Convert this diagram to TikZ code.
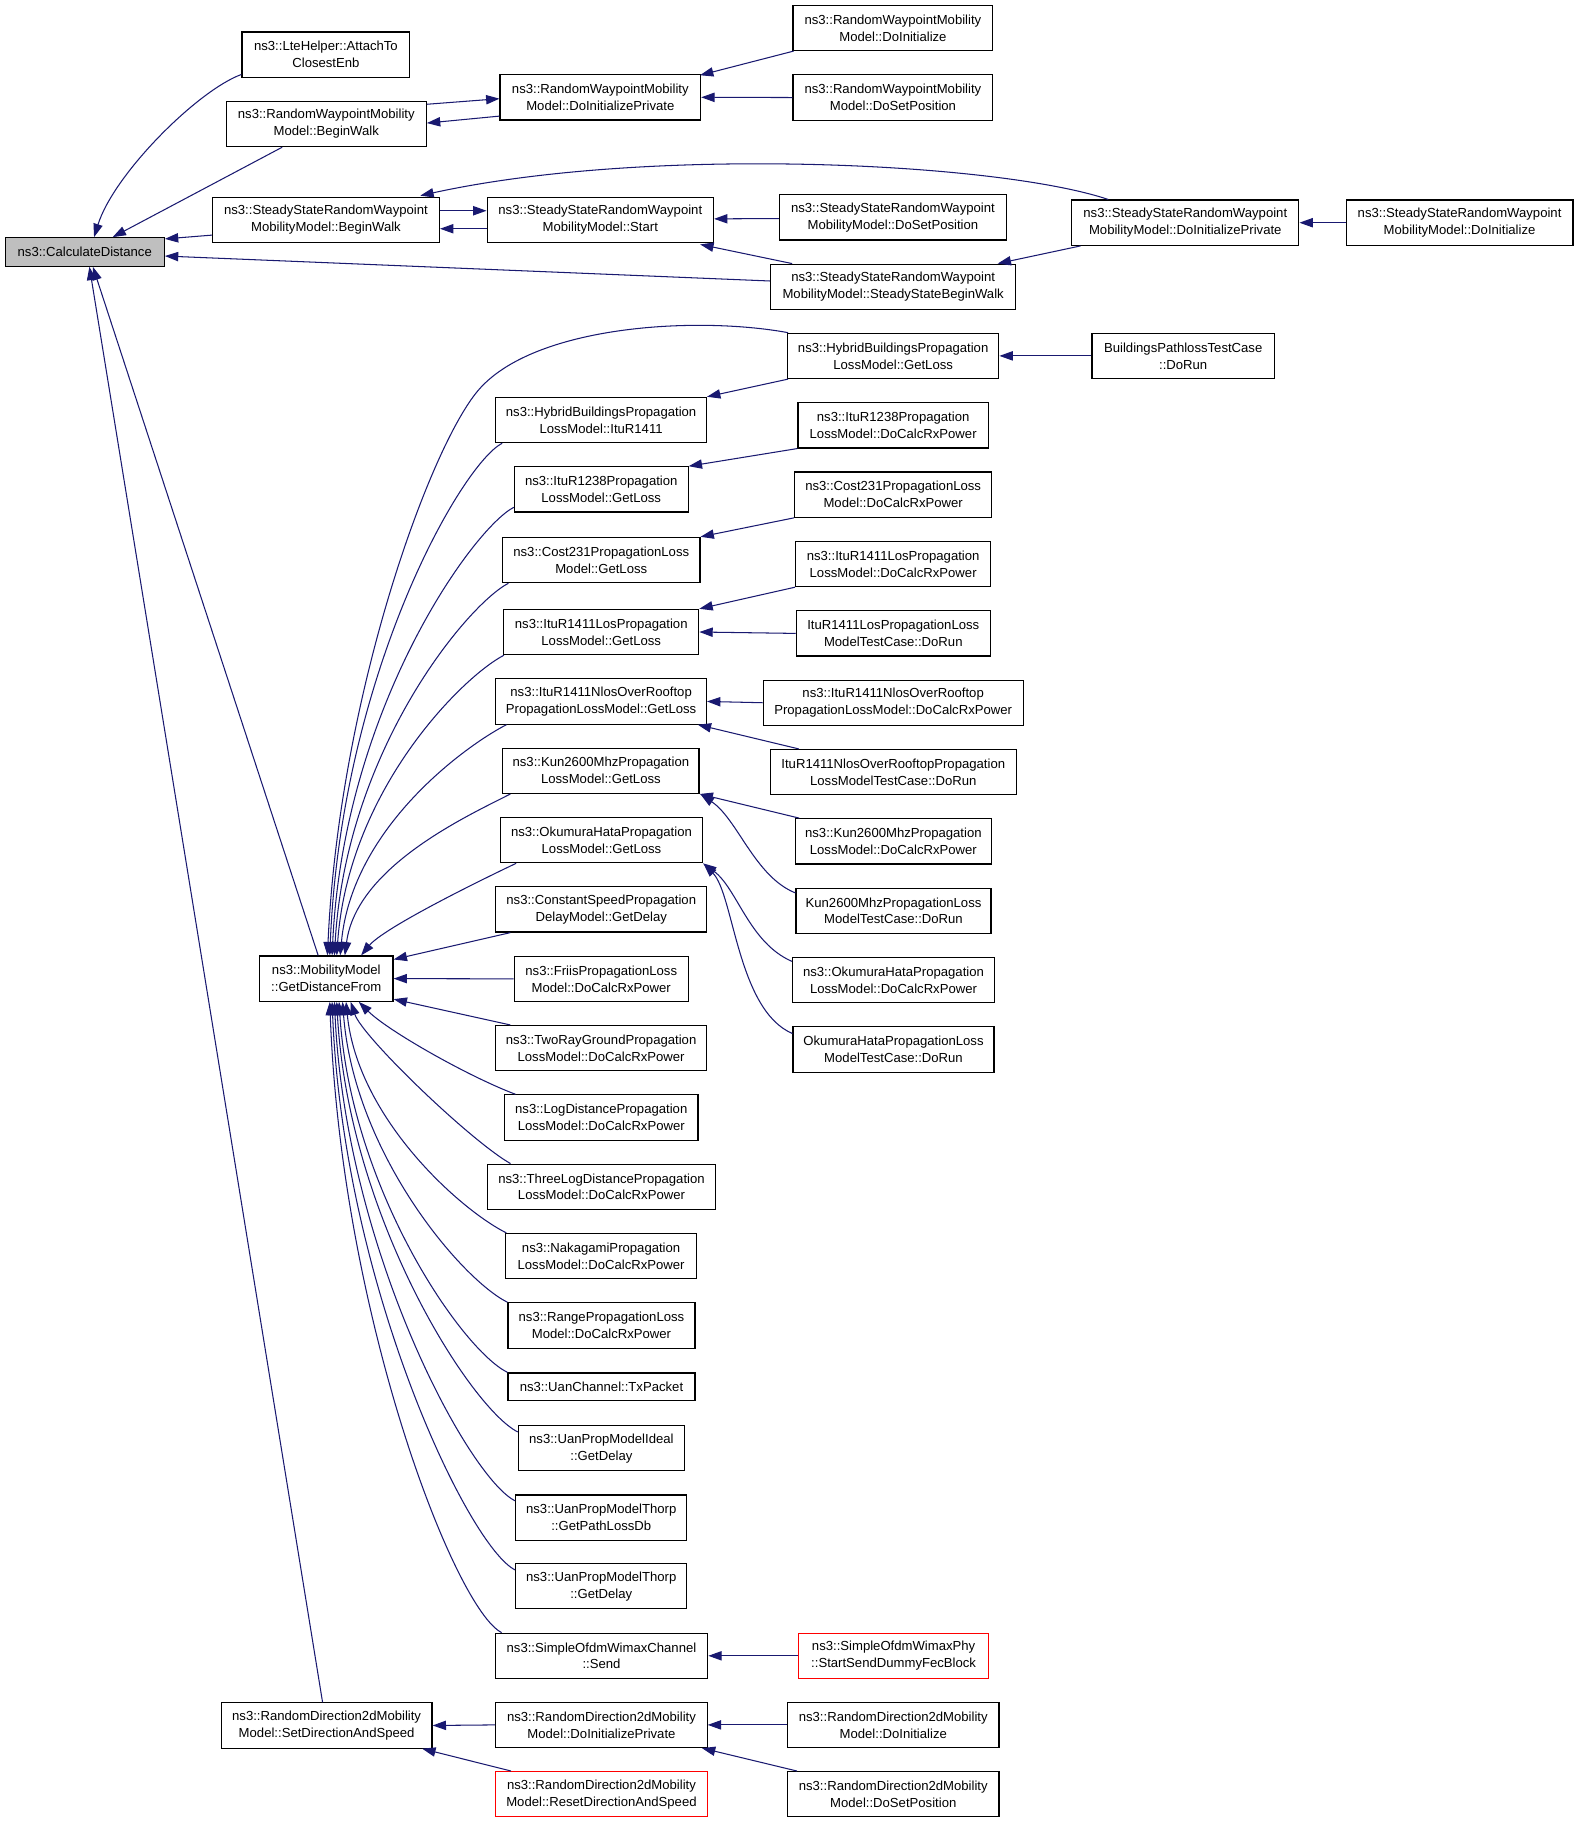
\documentclass[tikz,border=0pt]{standalone}
\usepackage{fontspec}
\setmainfont{Liberation Sans}
\usetikzlibrary{arrows.meta,calc}
\definecolor{navy}{RGB}{25,25,112}
\definecolor{cdgray}{RGB}{191,191,191}
\tikzset{
  box/.style={draw=black, line width=1pt, fill=white, inner sep=0pt, align=center,
    font=\fontsize{11.3}{14.6}\selectfont, minimum height=39pt},
  redbox/.style={box, draw=red},
  edge/.style={draw=navy, line width=0.9pt, -{Triangle[length=11.5pt,width=8pt]}}
}
\begin{document}
\begin{tikzpicture}[x=1pt,y=-1pt]
\fill[white] (0,0) rectangle (1359.9,1570);
\useasboundingbox (0,0) rectangle (1359.9,1570);
% nodes
\node[box, fill=cdgray, minimum width=137pt, minimum height=24.5pt] (CD) at (73,217) {ns3::CalculateDistance};
\node[box, minimum width=144.5pt] (AT) at (280.7,47.1) {ns3::LteHelper::AttachTo\\ClosestEnb};
\node[box, minimum width=172.3pt] (RWBW) at (281,106.8) {ns3::RandomWaypointMobility\\Model::BeginWalk};
\node[box, minimum width=172.7pt] (RWDIP) at (517,83.8) {ns3::RandomWaypointMobility\\Model::DoInitializePrivate};
\node[box, minimum width=172pt] (RWDI) at (769,24) {ns3::RandomWaypointMobility\\Model::DoInitialize};
\node[box, minimum width=172pt] (RWDSP) at (769,84) {ns3::RandomWaypointMobility\\Model::DoSetPosition};
\node[box, minimum width=195.5pt] (SSBW) at (280.7,189.5) {ns3::SteadyStateRandomWaypoint\\MobilityModel::BeginWalk};
\node[box, minimum width=195pt] (SSST) at (517,189.5) {ns3::SteadyStateRandomWaypoint\\MobilityModel::Start};
\node[box, minimum width=195.5pt] (SSDSP) at (769,187.2) {ns3::SteadyStateRandomWaypoint\\MobilityModel::DoSetPosition};
\node[box, minimum width=211pt] (SSSBW) at (769.2,247) {ns3::SteadyStateRandomWaypoint\\MobilityModel::SteadyStateBeginWalk};
\node[box, minimum width=195.6pt] (SSDIP) at (1020.8,191.8) {ns3::SteadyStateRandomWaypoint\\MobilityModel::DoInitializePrivate};
\node[box, minimum width=195.4pt] (SSDI) at (1257,191.8) {ns3::SteadyStateRandomWaypoint\\MobilityModel::DoInitialize};
\node[box, minimum width=182pt] (HGL) at (769.2,306.5) {ns3::HybridBuildingsPropagation\\LossModel::GetLoss};
\node[box, minimum width=157pt] (BPT) at (1019,306.5) {BuildingsPathlossTestCase\\::DoRun};
\node[box, minimum width=181.4pt] (HI) at (517.7,361.7) {ns3::HybridBuildingsPropagation\\LossModel::ItuR1411};
\node[box, minimum width=164pt] (I38D) at (769.2,366.3) {ns3::ItuR1238Propagation\\LossModel::DoCalcRxPower};
\node[box, minimum width=149.6pt] (I38G) at (517.8,421.5) {ns3::ItuR1238Propagation\\LossModel::GetLoss};
\node[box, minimum width=170pt] (C2D) at (769.2,426) {ns3::Cost231PropagationLoss\\Model::DoCalcRxPower};
\node[box, minimum width=170pt] (C2G) at (517.8,482.3) {ns3::Cost231PropagationLoss\\Model::GetLoss};
\node[box, minimum width=168pt] (ILD) at (769.2,485.7) {ns3::ItuR1411LosPropagation\\LossModel::DoCalcRxPower};
\node[box, minimum width=168pt] (ILG) at (517.8,544.3) {ns3::ItuR1411LosPropagation\\LossModel::GetLoss};
\node[box, minimum width=167pt] (ILT) at (769.3,545.5) {ItuR1411LosPropagationLoss\\ModelTestCase::DoRun};
\node[box, minimum width=181.4pt] (NG) at (517.7,604.1) {ns3::ItuR1411NlosOverRooftop\\PropagationLossModel::GetLoss};
\node[box, minimum width=224pt] (ND) at (769.2,605.2) {ns3::ItuR1411NlosOverRooftop\\PropagationLossModel::DoCalcRxPower};
\node[box, minimum width=211.6pt] (NT) at (769.3,665) {ItuR1411NlosOverRooftopPropagation\\LossModelTestCase::DoRun};
\node[box, minimum width=169pt] (KG) at (517.5,663.8) {ns3::Kun2600MhzPropagation\\LossModel::GetLoss};
\node[box, minimum width=169pt] (KD) at (769.4,724.6) {ns3::Kun2600MhzPropagation\\LossModel::DoCalcRxPower};
\node[box, minimum width=174pt] (OG) at (518,723.5) {ns3::OkumuraHataPropagation\\LossModel::GetLoss};
\node[box, minimum width=168pt] (KT) at (769.5,784.4) {Kun2600MhzPropagationLoss\\ModelTestCase::DoRun};
\node[box, minimum width=181.6pt] (CS) at (517.8,783.2) {ns3::ConstantSpeedPropagation\\DelayModel::GetDelay};
\node[box, minimum width=173.7pt] (OD) at (769.5,844) {ns3::OkumuraHataPropagation\\LossModel::DoCalcRxPower};
\node[box, minimum width=115pt] (GDF) at (281,842.8) {ns3::MobilityModel\\::GetDistanceFrom};
\node[box, minimum width=150pt] (FR) at (517.8,843) {ns3::FriisPropagationLoss\\Model::DoCalcRxPower};
\node[box, minimum width=173pt] (OT) at (769.5,903.8) {OkumuraHataPropagationLoss\\ModelTestCase::DoRun};
\node[box, minimum width=181.4pt] (TR) at (517.7,902.7) {ns3::TwoRayGroundPropagation\\LossModel::DoCalcRxPower};
\node[box, minimum width=166.7pt] (LD) at (517.8,962.4) {ns3::LogDistancePropagation\\LossModel::DoCalcRxPower};
\node[box, minimum width=195.7pt] (TL) at (518,1022.1) {ns3::ThreeLogDistancePropagation\\LossModel::DoCalcRxPower};
\node[box, minimum width=164.2pt] (NK) at (517.7,1081.8) {ns3::NakagamiPropagation\\LossModel::DoCalcRxPower};
\node[box, minimum width=161pt] (RG) at (518,1141.5) {ns3::RangePropagationLoss\\Model::DoCalcRxPower};
\node[box, minimum width=161pt, minimum height=24pt] (UC) at (518,1194.4) {ns3::UanChannel::TxPacket};
\node[box, minimum width=143pt] (UI) at (517.9,1247.2) {ns3::UanPropModelIdeal\\::GetDelay};
\node[box, minimum width=147.5pt] (UT) at (517.8,1307) {ns3::UanPropModelThorp\\::GetPathLossDb};
\node[box, minimum width=147.5pt] (UD) at (517.8,1366) {ns3::UanPropModelThorp\\::GetDelay};
\node[box, minimum width=183pt] (WC) at (518,1426) {ns3::SimpleOfdmWimaxChannel\\::Send};
\node[redbox, minimum width=163.5pt] (WP) at (769.6,1426) {ns3::SimpleOfdmWimaxPhy\\::StartSendDummyFecBlock};
\node[box, minimum width=181.6pt] (RDS) at (281.3,1486) {ns3::RandomDirection2dMobility\\Model::SetDirectionAndSpeed};
\node[box, minimum width=182pt] (RDP) at (518,1485.5) {ns3::RandomDirection2dMobility\\Model::DoInitializePrivate};
\node[box, minimum width=182pt] (RDI) at (769.3,1485.5) {ns3::RandomDirection2dMobility\\Model::DoInitialize};
\node[redbox, minimum width=183pt] (RDR) at (518,1545.2) {ns3::RandomDirection2dMobility\\Model::ResetDirectionAndSpeed};
\node[box, minimum width=182pt] (RDD) at (769.3,1545.2) {ns3::RandomDirection2dMobility\\Model::DoSetPosition};
% edges to CalculateDistance
\draw[edge] ($(AT.south west)+(0,-3)$) .. controls (170,78) and (98,150) .. ($(CD.north)+(8,0)$);
\draw[edge] ($(RWBW.south)+(-38,0)$) -- ($(CD.north)+(24,0)$);
\draw[edge] ($(SSBW.south west)+(0,-7)$) -- ($(CD.north east)+(0,1.5)$);
\draw[edge] ($(SSSBW.west)+(0,-5)$) -- ($(CD.east)+(0,3.5)$);
\draw[edge] ($(GDF.north)+(-7,0)$) -- ($(CD.south)+(7,0)$);
\draw[edge] ($(RDS.north)+(-3.5,0)$) -- ($(CD.south)+(4,0)$);
% random waypoint
\draw[edge] ($(RWBW.east)+(0,-17)$) -- ($(RWDIP.west)+(0,1.2)$);
\draw[edge] ($(RWDIP.west)+(0,16.2)$) -- ($(RWBW.east)+(0,-0.8)$);
\draw[edge] ($(RWDI.south west)+(1,0)$) -- ($(RWDIP.north east)+(-1,1)$);
\draw[edge] (RWDSP.west) -- (RWDIP.east);
% steady state
\draw[edge] ($(SSBW.east)+(0,-8)$) -- ($(SSST.west)+(0,-8)$);
\draw[edge] ($(SSST.west)+(0,7.5)$) -- ($(SSBW.east)+(0,7.5)$);
\draw[edge] ($(SSDIP.north west)+(32,0)$) .. controls (860,140) and (560,125) .. ($(SSBW.north east)+(-17,-1)$);
\draw[edge] ($(SSDSP.west)+(0,1)$) -- ($(SSST.east)+(0,-1)$);
\draw[edge] ($(SSSBW.north west)+(19,0)$) -- ($(SSST.south east)+(-12,1)$);
\draw[edge] ($(SSDIP.south west)+(8,0)$) -- ($(SSSBW.north east)+(-16,0)$);
\draw[edge] (SSDI.west) -- (SSDIP.east);
% propagation models
\draw[edge] (BPT.west) -- (HGL.east);
\draw[edge] ($(HGL.north west)+(1,0)$) .. controls (600,272) and (460,280) .. (412,336) .. controls (370,385) and (292,600) .. ($(GDF.north)+(1,0)$);
\draw[edge] ($(HGL.south west)+(1,0)$) -- (HI.north east);
\draw[edge] ($(HI.south west)+(6,0)$) .. controls +(-35,18) and +(10,-243) .. ($(GDF.north)+(3,0)$);
\draw[edge] (I38D.south west) -- (I38G.north east);
\draw[edge] ($(I38G.south west)+(0,-4.6)$) .. controls +(-35,18) and +(10,-213) .. ($(GDF.north)+(5,0)$);
\draw[edge] (C2D.south west) -- (C2G.north east);
\draw[edge] ($(C2G.south west)+(5.6,0)$) .. controls +(-35,18) and +(10,-177) .. ($(GDF.north)+(7,0)$);
\draw[edge] (ILD.south west) -- (ILG.north east);
\draw[edge] (ILT.west) -- (ILG.east);
\draw[edge] ($(ILG.south west)+(0.7,0)$) .. controls +(-35,18) and +(10,-143) .. ($(GDF.north)+(9,0)$);
\draw[edge] (ND.west) -- (NG.east);
\draw[edge] ($(NT.north west)+(25,0)$) -- ($(NG.south east)+(-8,0)$);
\draw[edge] ($(NG.south west)+(9.7,0)$) .. controls +(-35,18) and +(10,-110) .. ($(GDF.north)+(12,0)$);
\draw[edge] ($(KD.north west)+(4,0)$) -- (KG.south east);
\draw[edge] ($(KT.north west)+(0,4.6)$) .. controls (650,755) and (635,705) .. ($(KG.south east)+(1,0.5)$);
\draw[edge] ($(KG.south west)+(7,0)$) .. controls +(-35,18) and +(10,-77) .. ($(GDF.north)+(16,0)$);
\draw[edge] ($(OD.north west)+(0,4)$) .. controls (645,812) and (635,765) .. (OG.south east);
\draw[edge] ($(OT.north west)+(0,6.3)$) .. controls (635,870) and (632,770) .. ($(OG.south east)+(0.5,0.5)$);
\draw[edge] ($(OG.south west)+(14,0)$) .. controls +(-40,19) and +(19,-23) .. ($(GDF.north)+(30,0)$);
\draw[edge] ($(CS.south west)+(13,0)$) -- ($(GDF.north east)+(0,3.5)$);
\draw[edge] (FR.west) -- (GDF.east);
\draw[edge] ($(TR.north west)+(13,0)$) -- ($(GDF.south east)+(0,-2.3)$);
\draw[edge] ($(LD.north west)+(10,0)$) .. controls +(-40,-15) and +(25,25) .. ($(GDF.south)+(28,0)$);
\draw[edge] ($(TL.north west)+(20,0)$) .. controls +(-35,-20) and +(10,30) .. ($(GDF.south)+(21,0)$);
\draw[edge] ($(NK.north west)+(1,0)$) .. controls +(-40,-20) and +(10,100) .. ($(GDF.south)+(17,0)$);
\draw[edge] (RG.north west) .. controls +(-40,-20) and +(10,130) .. ($(GDF.south)+(14,0)$);
\draw[edge] (UC.north west) .. controls +(-40,-20) and +(10,160) .. ($(GDF.south)+(11,0)$);
\draw[edge] ($(UI.north west)+(0,6)$) .. controls +(-40,-20) and +(10,186) .. ($(GDF.south)+(9,0)$);
\draw[edge] ($(UT.north west)+(0,5.5)$) .. controls +(-40,-20) and +(10,215) .. ($(GDF.south)+(7,0)$);
\draw[edge] ($(UD.north west)+(0,6)$) .. controls +(-40,-20) and +(10,245) .. ($(GDF.south)+(5,0)$);
\draw[edge] ($(WC.north west)+(6,0)$) .. controls +(-40,-20) and +(10,272) .. ($(GDF.south)+(3,0)$);
\draw[edge] (WP.west) -- (WC.east);
% random direction
\draw[edge] (RDP.west) -- (RDS.east);
\draw[edge] ($(RDR.north west)+(14,0)$) -- ($(RDS.south east)+(-9,0)$);
\draw[edge] (RDI.west) -- (RDP.east);
\draw[edge] ($(RDD.north west)+(8.5,0)$) -- ($(RDP.south east)+(-5,0)$);
\end{tikzpicture}
\end{document}
